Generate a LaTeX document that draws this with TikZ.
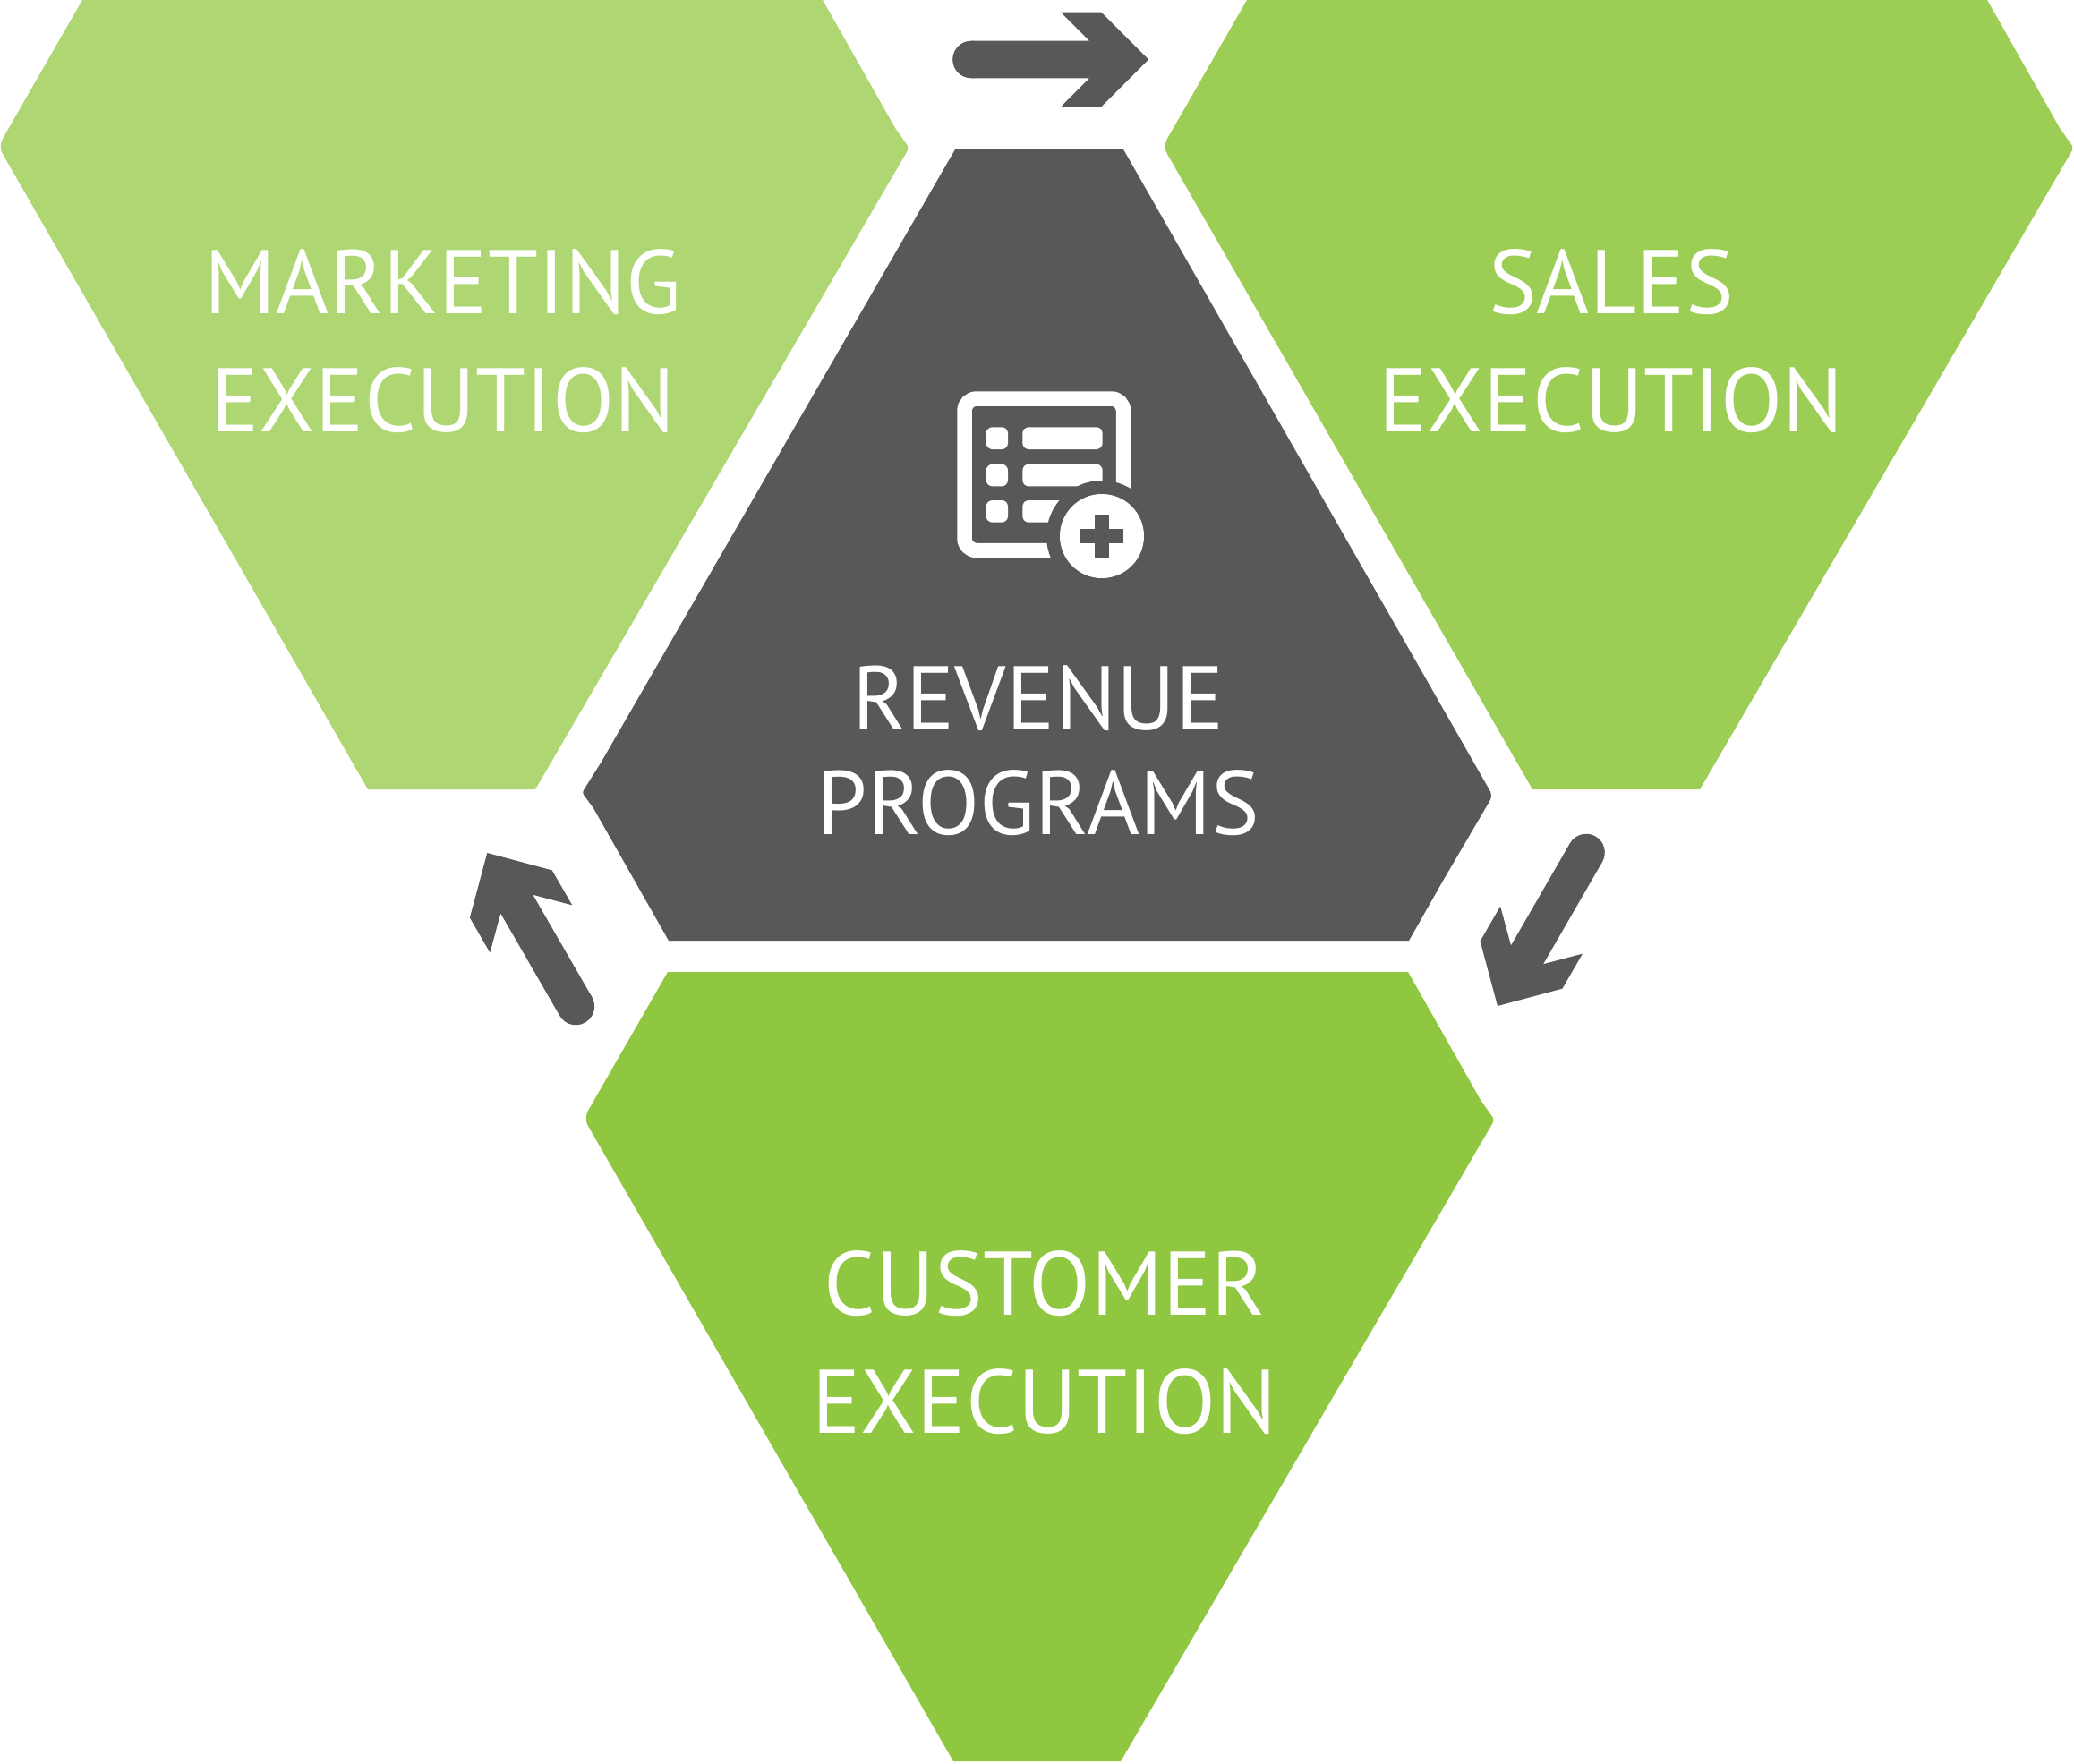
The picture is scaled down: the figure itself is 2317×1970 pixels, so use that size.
\documentclass[tikz,border=0pt]{standalone}
\usepackage{fontspec}
\newfontfamily\ptlabel[LetterSpace=0.3]{PT Sans}
\definecolor{mktgreen}{HTML}{AED673}
\definecolor{salgreen}{HTML}{9CCE55}
\definecolor{cusgreen}{HTML}{8FC741}
\definecolor{darkgrey}{HTML}{58585A}

\begin{document}
\begin{tikzpicture}[x=1pt, y=-1pt,
  lbl/.style={text=white, align=center, inner sep=0pt, font=\ptlabel\fontsize{101}{132}\selectfont},
  iconbar/.style={fill=white, rounded corners=7pt},
  execshape/.pic={\fill[pic actions] (92,0) -- (919,0) -- (1000,143) -- (1014,163) -- (1014,168)
      -- (598,882) -- (411,882) -- (3,172) .. controls (0,167) and (0,161) .. (3,155) -- cycle;},
  flowarrow/.pic={\fill[darkgrey] (-198,0) circle[radius=20.8];
    \fill[darkgrey] (-198,-20.8) -- (-66,-20.8) -- (-98,-53) -- (-53,-53) -- (0,0)
      -- (-53,53) -- (-98,53) -- (-66,20.8) -- (-198,20.8) -- cycle;}]
\useasboundingbox (0,0) rectangle (2317,1970);

% three green blocks
\pic[fill=mktgreen] (mkt) at (0,0) {execshape};
\pic[fill=salgreen] (sal) at (1301,0) {execshape};
\pic[fill=cusgreen] (cus) at (654,1086) {execshape};

% centre block
\fill[darkgrey] (1067,167) -- (1255,167) -- (1663,881) .. controls (1667,887) and (1667,891) .. (1663,897)
  -- (1612,984) -- (1574,1051) -- (747,1051) -- (663,903) -- (652,888)
  .. controls (651,886) and (651,885) .. (652,883) -- (672,851) -- cycle;

% arrows
\foreach \x/\y/\r/\n in {1283/66.5/0/arra,1673/1124/-120/arrb,544.3/953/-240/arrc}
  \pic[rotate=\r] (\n) at (\x,\y) {flowarrow};

% icon
\draw[white, line width=16.5pt, rounded corners=13.5pt] (1077.5,445.5) rectangle (1255,615);
\foreach \y in {477.3,518.7,559} {
  \fill[iconbar] (1101.7,\y) rectangle (1126,\y+24.7);
  \fill[iconbar] (1142.3,\y) rectangle (1231.7,\y+24.7);
}
\fill[darkgrey] (1231,599) circle[radius=62];
\fill[white] (1231,599) circle[radius=47];
\fill[darkgrey] (1207,591) rectangle (1255,607);
\fill[darkgrey] (1223,575) rectangle (1239,623);

% labels
\node[lbl] (marketing) at (495,381) {MARKETING\\EXECUTION};
\node[lbl] (sales) at (1800,381) {SALES\\EXECUTION};
\node[lbl, font=\ptlabel\fontsize{101}{117}\selectfont] (revenue) at (1160,838.5) {REVENUE\\PROGRAMS};
\node[lbl] (customer) at (1167,1500) {CUSTOMER\\EXECUTION};
\end{tikzpicture}
\end{document}
